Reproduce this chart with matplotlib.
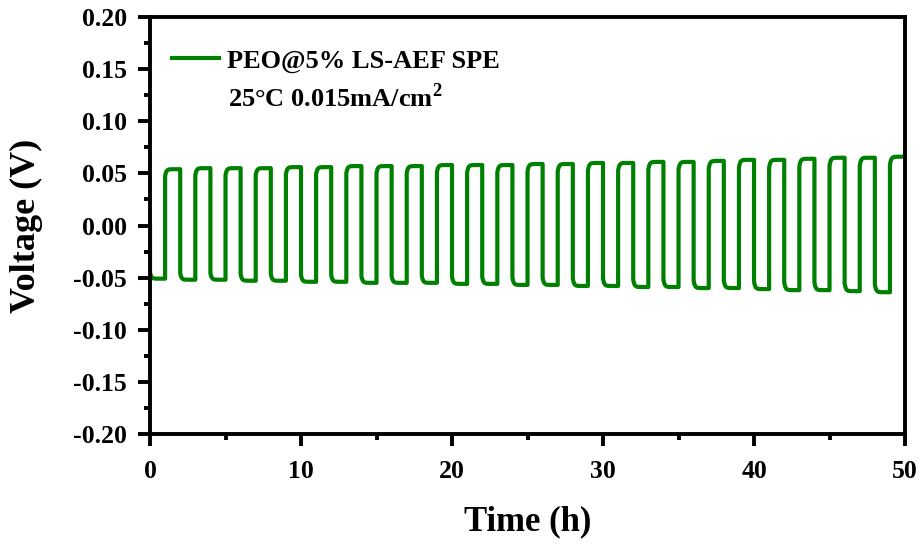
import numpy as np
import matplotlib.pyplot as plt
from matplotlib.ticker import MultipleLocator, AutoMinorLocator

plt.rcParams['font.family'] = 'Liberation Serif'
plt.rcParams['font.weight'] = 'bold'
plt.rcParams['mathtext.fontset'] = 'custom'
plt.rcParams['mathtext.rm'] = 'Liberation Serif:bold'
plt.rcParams['mathtext.bf'] = 'Liberation Serif:bold'

# plateau voltages of each half cycle (V), one value per cycle
v_strip = [-0.051, -0.052, -0.052, -0.053, -0.053, -0.054, -0.054, -0.055,
           -0.055, -0.055, -0.056, -0.056, -0.057, -0.057, -0.058, -0.058,
           -0.059, -0.059, -0.060, -0.060, -0.061, -0.062, -0.062, -0.063,
           -0.064]
v_plate = [0.054, 0.055, 0.055, 0.055, 0.056, 0.056, 0.057, 0.057, 0.057,
           0.058, 0.058, 0.058, 0.059, 0.059, 0.060, 0.060, 0.061, 0.061,
           0.062, 0.063, 0.063, 0.064, 0.065, 0.065, 0.066]
half_h = 1.0  # hours per half cycle

# build the voltage trace: each half starts a bit below its plateau and relaxes
t_all = [np.array([0.0])]
v_all = [np.array([0.0])]
tau = np.linspace(0, half_h, 60)
shape = 1 - 0.12 * np.exp(-tau / 0.08)
for k, (vn, vp) in enumerate(zip(v_strip, v_plate)):
    t0 = 2 * k * half_h
    t_all += [t0 + tau, t0 + half_h + tau]
    v_all += [vn * shape, vp * shape]
t = np.concatenate(t_all)
v = np.concatenate(v_all)

fig = plt.figure(figsize=(9.22, 5.47), dpi=100)
ax = fig.add_axes([0.1627, 0.2066, 0.8189, 0.7623])

ax.plot(t, v, color='#008000', lw=3.0, label='PEO@5% LS-AEF SPE')

ax.set_xlim(0, 50)
ax.set_ylim(-0.2, 0.2)
ax.xaxis.set_major_locator(MultipleLocator(10))
ax.xaxis.set_minor_locator(AutoMinorLocator(2))
ax.yaxis.set_major_locator(MultipleLocator(0.05))
ax.yaxis.set_minor_locator(AutoMinorLocator(2))
ax.yaxis.set_major_formatter(lambda x, pos: f'{x:.2f}')

for s in ax.spines.values():
    s.set_linewidth(2.8)
ax.tick_params(which='both', direction='out', width=2.8, labelsize=18.5,
               top=False, right=False)
ax.tick_params(which='major', length=8.5)
ax.tick_params(axis='x', which='major', pad=10)
ax.tick_params(axis='y', which='major', pad=8)
ax.tick_params(which='minor', length=4.5)

ax.set_xlabel('Time (h)', fontsize=25, fontweight='bold')
ax.set_ylabel('Voltage (V)', fontsize=26, fontweight='bold')
ax.xaxis.set_label_coords(0.5, -0.172)
ax.yaxis.set_label_coords(-0.142, 0.5)

ax.legend(loc='center left', frameon=False, fontsize=19, handlelength=1.8,
          handletextpad=0.3, borderpad=0, borderaxespad=0,
          bbox_to_anchor=(0.029, 0.895))
ax.text(0.103, 0.806, '25°C 0.015mA/cm$^{2}$', transform=ax.transAxes,
        fontsize=19, fontweight='bold', va='center')

fig.savefig('out.png', dpi=100)
